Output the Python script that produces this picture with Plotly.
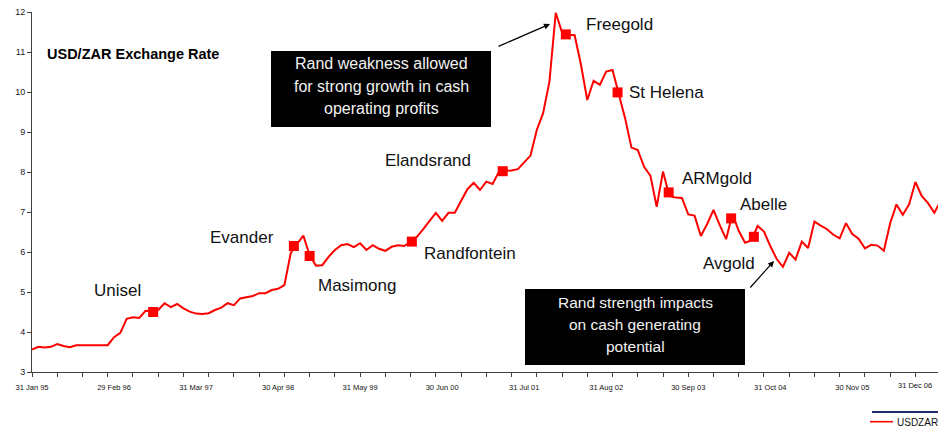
import plotly.graph_objects as go

# ---------------- data ----------------
# monthly USD/ZAR rate, month index 0 = 31 Jan 95
usdzar = [
    3.56, 3.63, 3.61, 3.63, 3.70, 3.65, 3.62, 3.67, 3.67, 3.67, 3.67, 3.67,   # 1995
    3.67, 3.87, 3.98, 4.33, 4.37, 4.35, 4.53, 4.52, 4.55, 4.72, 4.62, 4.70,   # 1996
    4.59, 4.51, 4.46, 4.45, 4.47, 4.55, 4.61, 4.72, 4.67, 4.84, 4.87, 4.90,   # 1997
    4.97, 4.97, 5.05, 5.08, 5.17, 5.97, 6.20, 6.41, 5.92, 5.66, 5.67, 5.88,   # 1998
    6.05, 6.17, 6.20, 6.12, 6.22, 6.05, 6.17, 6.08, 6.03, 6.13, 6.17, 6.15,   # 1999
    6.26, 6.38, 6.57, 6.77, 6.98, 6.78, 6.98, 6.98, 7.28, 7.57, 7.73, 7.55,   # 2000
    7.76, 7.70, 8.01, 8.02, 8.04, 8.07, 8.24, 8.41, 9.05, 9.47, 10.26, 11.98, # 2001
    11.49, 11.43, 11.42, 10.68, 9.80, 10.28, 10.18, 10.51, 10.55, 9.97, 9.34, 8.61,  # 2002
    8.55, 8.13, 7.91, 7.13, 8.01, 7.40, 7.36, 7.35, 6.94, 6.91, 6.40, 6.70,   # 2003
    7.05, 6.67, 6.32, 6.95, 6.53, 6.23, 6.29, 6.65, 6.51, 6.15, 5.83, 5.63,   # 2004
    5.98, 5.81, 6.26, 6.10, 6.76, 6.66, 6.57, 6.43, 6.34, 6.72, 6.45, 6.33,   # 2005
    6.09, 6.18, 6.16, 6.03, 6.72, 7.19, 6.93, 7.19, 7.75, 7.40, 7.22, 6.98,   # 2006
    7.28,                                                                     # 2007
]
month_index = list(range(len(usdzar)))

# x tick labels (every 13 months) and their month indices
tick_labels = ["31 Jan 95", "29 Feb 96", "31 Mar 97", "30 Apr 98", "31 May 99",
               "30 Jun 00", "31 Jul 01", "31 Aug 02", "30 Sep 03", "31 Oct 04",
               "30 Nov 05"]
tick_months = [0, 13, 26, 39, 52, 65, 78, 91, 104, 117, 130]
last_label = "31 Dec 06"
last_label_month = 143

y_ticks = [3, 4, 5, 6, 7, 8, 9, 10, 11, 12]

# acquisition events (month index, rate)
event_names = ["Unisel", "Evander", "Masimong", "Randfontein", "Elandsrand",
               "Freegold", "St Helena", "ARMgold", "Abelle", "Avgold"]
event_month = [19.2, 41.5, 44.0, 60.2, 74.6, 84.6, 92.8, 100.9, 110.8, 114.4]
event_rate = [4.50, 6.15, 5.90, 6.26, 8.02, 11.44, 9.99, 7.49, 6.84, 6.38]

# ---------------- layout geometry ----------------
W, H = 938, 427
L, R, T, B = 32, 0, 12, 55
PX_PER_MONTH = 6.31
X_MAX = (W - L - R) / PX_PER_MONTH
Y_MIN, Y_MAX = 3, 12
plot_h = H - T - B


def dx(px):          # pixel x -> data x
    return (px - L) / PX_PER_MONTH


def dy(py):          # pixel y -> data y
    return Y_MIN + (H - B - py) / plot_h * (Y_MAX - Y_MIN)


def py_paper(py):    # pixel y -> paper y
    return (H - B - py) / plot_h


def px_paper(px):
    return (px - L) / (W - L - R)


FONT = "Liberation Sans, Arial, sans-serif"
AXIS_COL = "#404040"

fig = go.Figure()
fig.add_trace(go.Scatter(
    x=month_index, y=usdzar, mode="lines", name="USDZAR",
    line=dict(color="#ff0000", width=2), showlegend=False, hoverinfo="skip"))
fig.add_trace(go.Scatter(
    x=event_month, y=event_rate, mode="markers", xaxis="x2",
    marker=dict(symbol="square", size=10, color="#ff0000"),
    showlegend=False, text=event_names))

annotations = []
# event labels (pixel centres from the reference)
label_pos = {
    "Unisel": (117, 290), "Evander": (242, 237), "Masimong": (357, 285),
    "Randfontein": (470, 253), "Elandsrand": (428, 160), "Freegold": (619, 24.5),
    "St Helena": (666, 92), "ARMgold": (717, 178), "Abelle": (763, 204),
    "Avgold": (729, 263),
}
for name in event_names:
    px, py = label_pos[name]
    annotations.append(dict(
        x=dx(px), y=dy(py), xref="x", yref="y", text=name, showarrow=False,
        xanchor="center", yanchor="middle",
        font=dict(family=FONT, size=17, color="#111111")))

# chart title
annotations.append(dict(
    x=px_paper(45), y=py_paper(54), xref="paper", yref="paper",
    text="<b>USD/ZAR Exchange Rate</b>", showarrow=False,
    xanchor="left", yanchor="middle",
    font=dict(family=FONT, size=14.5, color="#000000")))

# callout boxes
shapes = []
box1 = (271, 51, 491, 127)
box2 = (525, 289, 745, 365)
for (x0, y0, x1, y1) in (box1, box2):
    shapes.append(dict(type="rect", xref="paper", yref="paper",
                       x0=px_paper(x0), x1=px_paper(x1),
                       y0=py_paper(y1), y1=py_paper(y0),
                       fillcolor="#000000", line=dict(width=0), layer="above"))

box1_lines = ["Rand weakness allowed", "for strong growth in cash", "operating profits"]
for k, line in enumerate(box1_lines):
    annotations.append(dict(
        x=px_paper(381), y=py_paper(63.5 + 22.5 * k), xref="paper", yref="paper",
        text=line, showarrow=False, xanchor="center", yanchor="middle",
        font=dict(family=FONT, size=16, color="#f2f2f2")))
box2_lines = ["Rand strength impacts", "on cash generating", "potential"]
for k, line in enumerate(box2_lines):
    annotations.append(dict(
        x=px_paper(635), y=py_paper(302.7 + 21.7 * k), xref="paper", yref="paper",
        text=line, showarrow=False, xanchor="center", yanchor="middle",
        font=dict(family=FONT, size=15.5, color="#f2f2f2")))

# arrows
annotations.append(dict(x=dx(550), y=dy(24), xref="x", yref="y", text="",
                        showarrow=True, ax=-53, ay=23, arrowhead=2, arrowsize=1,
                        arrowwidth=1.2, arrowcolor="#000000", standoff=0))
annotations.append(dict(x=dx(774), y=dy(261), xref="x", yref="y", text="",
                        showarrow=True, ax=-25, ay=28, arrowhead=2, arrowsize=1,
                        arrowwidth=1.2, arrowcolor="#000000", standoff=0))

# last x label (shifted left to fit inside the chart, as in the source)
annotations.append(dict(
    x=last_label_month, y=py_paper(385.5), xref="x", yref="paper",
    text=last_label, showarrow=False, xanchor="center", yanchor="middle",
    xshift=-19, font=dict(family=FONT, size=7.5, color="#111111")))

# legend at bottom right
shapes.append(dict(type="line", xref="paper", yref="paper",
                   x0=px_paper(872), x1=px_paper(940), y0=py_paper(412), y1=py_paper(412),
                   line=dict(color="#1f2d6e", width=2)))
shapes.append(dict(type="line", xref="paper", yref="paper",
                   x0=px_paper(870), x1=px_paper(893), y0=py_paper(421.7), y1=py_paper(421.7),
                   line=dict(color="#ff0000", width=1.6)))
annotations.append(dict(
    x=px_paper(895), y=py_paper(422.5), xref="paper", yref="paper",
    text="USDZAR", showarrow=False, xanchor="left", yanchor="middle",
    font=dict(family=FONT, size=10, color="#111111")))

fig.update_layout(
    width=W, height=H, margin=dict(l=L, r=R, t=T, b=B, pad=0),
    paper_bgcolor="#ffffff", plot_bgcolor="#ffffff",
    font=dict(family=FONT),
    xaxis=dict(range=[0, X_MAX], tickmode="linear", tick0=0, dtick=4,
               ticks="outside", ticklen=4, tickcolor=AXIS_COL, tickwidth=1,
               showticklabels=False, showline=True, linecolor=AXIS_COL,
               linewidth=1, showgrid=False, zeroline=False),
    xaxis2=dict(range=[0, X_MAX], overlaying="x", anchor="y", side="bottom",
                tickmode="array", tickvals=tick_months, ticktext=tick_labels,
                ticks="", showline=False, showgrid=False, zeroline=False,
                ticklabelstandoff=9,
                tickfont=dict(family=FONT, size=7.5, color="#111111")),
    yaxis=dict(range=[Y_MIN, Y_MAX], tickmode="array", tickvals=y_ticks,
               ticks="outside", ticklen=4, tickcolor=AXIS_COL, tickwidth=1,
               showline=True, linecolor=AXIS_COL, linewidth=1,
               showgrid=False, zeroline=False,
               tickfont=dict(family=FONT, size=9, color="#222222")),
    shapes=shapes, annotations=annotations, showlegend=False,
)

fig.write_html("out.html")
